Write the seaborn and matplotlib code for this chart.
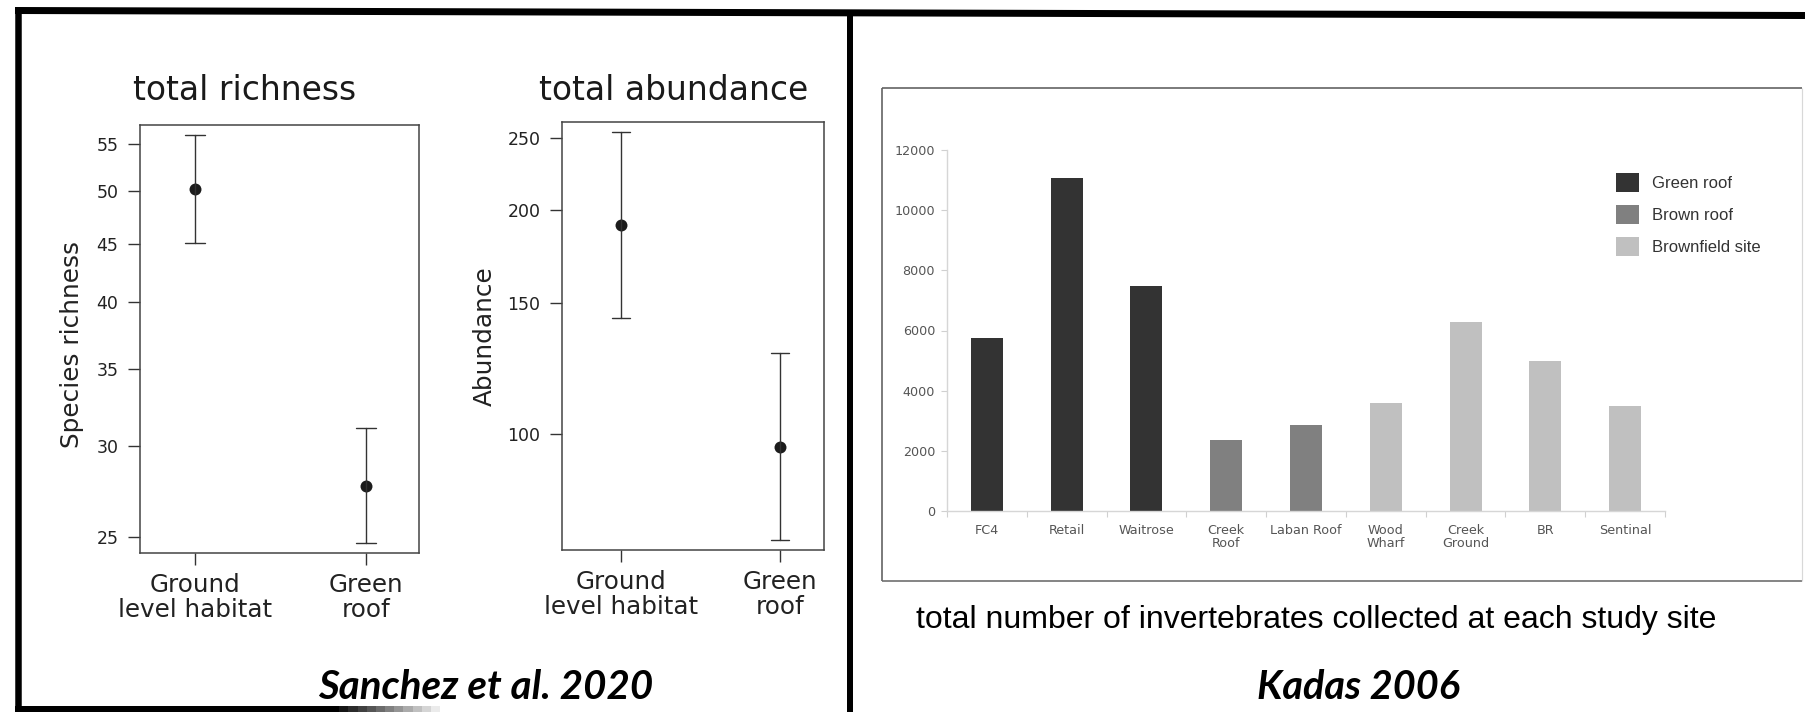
import numpy as np
import pandas as pd
import matplotlib
matplotlib.use("Agg")
import matplotlib.pyplot as plt
from matplotlib.lines import Line2D
from matplotlib.ticker import FixedLocator, FixedFormatter, NullLocator
import seaborn as sns

# ---- Sanchez et al. 2020: group means with interval bounds ----
habitats = ["Ground\nlevel habitat", "Green\nroof"]
richness_mean = [50.2, 27.7]
richness_low = [45.1, 24.7]
richness_high = [56.0, 31.1]
abundance_mean = [190.8, 96.0]
abundance_low = [143.0, 71.9]
abundance_high = [254.7, 128.6]
richness_ticks = [25, 30, 35, 40, 45, 50, 55]
abundance_ticks = [100, 150, 200, 250]

# ---- Kadas 2006: invertebrate totals per site ----
sites = ["FC4", "Retail", "Waitrose", "Creek\nRoof", "Laban Roof",
         "Wood\nWharf", "Creek\nGround", "BR", "Sentinal"]
site_types = ["Green roof", "Green roof", "Green roof", "Brown roof", "Brown roof",
              "Brownfield site", "Brownfield site", "Brownfield site", "Brownfield site"]
invertebrates = [5760, 11080, 7480, 2360, 2850, 3590, 6290, 4990, 3480]
count_ticks = [0, 2000, 4000, 6000, 8000, 10000, 12000]
type_colors = {"Green roof": "#333333", "Brown roof": "#808080", "Brownfield site": "#c0c0c0"}

W, H = 1805, 712
DPI = 100
PT = 72 / DPI  # points per pixel

sns.set_style("white")
plt.rcParams["font.family"] = ["DejaVu Sans"]

fig = plt.figure(figsize=(W / DPI, H / DPI), dpi=DPI)
fig.patch.set_facecolor("white")


def box(x0, y0, x1, y1):
    return [x0 / W, 1 - y1 / H, (x1 - x0) / W, (y1 - y0) / H]


def fig_line(x0, y0, x1, y1, width_px, color):
    fig.add_artist(Line2D([x0 / W, x1 / W], [1 - y0 / H, 1 - y1 / H],
                          transform=fig.transFigure, color=color,
                          linewidth=width_px * PT, solid_capstyle="butt"))


ink = "#1c1c1c"


def interval_panel(ax, means, lows, highs, ticks, ylim, xlim, title, title_xy,
                   ylabel, label_xy):
    values = np.ravel(np.column_stack([lows, means, highs]))
    df = pd.DataFrame({"habitat": np.repeat(habitats, 3), "value": values})
    ax.set_yscale("log")
    sns.pointplot(data=df, x="habitat", y="value", order=habitats,
                  estimator="median", errorbar=lambda v: (v.min(), v.max()),
                  color=ink, linestyle="none", markersize=8.6, markeredgewidth=0,
                  capsize=0.115, err_kws={"linewidth": 1.0, "color": "#333333"},
                  ax=ax)
    ax.set_xlim(*xlim)
    ax.set_ylim(*ylim)
    ax.yaxis.set_major_locator(FixedLocator(ticks))
    ax.yaxis.set_major_formatter(FixedFormatter([str(t) for t in ticks]))
    ax.yaxis.set_minor_locator(NullLocator())
    ax.set_xlabel("")
    ax.set_ylabel("")
    for s in ax.spines.values():
        s.set_visible(True)
        s.set_color("#444444")
        s.set_linewidth(1.1)
    ax.tick_params(axis="both", which="major", direction="out", length=8.6,
                   width=1.0, color="#333333", labelcolor="#222222",
                   left=True, bottom=True)
    ax.tick_params(axis="y", labelsize=12.5, pad=7.0)
    ax.tick_params(axis="x", labelsize=17.7, pad=5.5)
    for lab in ax.get_xticklabels():
        lab.set_linespacing(1.05)
    ax.text(title_xy[0], title_xy[1], title, transform=ax.transAxes,
            ha="center", va="baseline", fontsize=23.7, color="#1a1a1a")
    ax.text(label_xy[0], label_xy[1], ylabel, transform=ax.transAxes,
            ha="center", va="center", rotation=90, fontsize=17.8, color="#222222")
    ax.set_facecolor("white")


ax1 = fig.add_axes(box(140, 125, 419, 553))
interval_panel(ax1, richness_mean, richness_low, richness_high, richness_ticks,
               (24.2, 57.1), (-0.32, 1.31), "total richness", (0.3746, 1.0584),
               "Species richness", (-0.242, 0.487))

ax2 = fig.add_axes(box(562, 122, 824, 550))
interval_panel(ax2, abundance_mean, abundance_low, abundance_high, abundance_ticks,
               (69.8, 262.7), (-0.368, 1.274), "total abundance", (0.4256, 1.0514),
               "Abundance", (-0.294, 0.5))

# ---- bar chart of site totals ----
ax3 = fig.add_axes(box(947, 150, 1665, 511))
bars = pd.DataFrame({"site": sites, "count": invertebrates, "type": site_types})
sns.barplot(data=bars, x="site", y="count", hue="type", order=sites,
            hue_order=list(type_colors), palette=type_colors, dodge=False,
            width=0.4, saturation=1, linewidth=0, ax=ax3)
ax3.set_xlim(-0.5, len(sites) - 0.5)
ax3.set_ylim(count_ticks[0], count_ticks[-1])
ax3.yaxis.set_major_locator(FixedLocator(count_ticks))
ax3.yaxis.set_major_formatter(FixedFormatter([str(t) for t in count_ticks]))
ax3.xaxis.set_minor_locator(FixedLocator(np.arange(-0.5, len(sites), 1.0)))
ax3.set_xlabel("")
ax3.set_ylabel("")
ax3.set_facecolor("none")
for side in ("top", "right"):
    ax3.spines[side].set_visible(False)
for side in ("left", "bottom"):
    ax3.spines[side].set_visible(True)
    ax3.spines[side].set_color("#d6d6d6")
    ax3.spines[side].set_linewidth(1.0)
ax3.tick_params(axis="y", which="major", direction="out", length=4, width=0.8,
                color="#d0d0d0", labelsize=9.2, labelcolor="#555555", pad=4.6,
                left=True)
ax3.tick_params(axis="x", which="major", length=0, labelsize=9.2,
                labelcolor="#555555", pad=9, bottom=True)
ax3.tick_params(axis="x", which="minor", direction="out", length=4, width=0.8,
                color="#d0d0d0", bottom=True)
for lab in ax3.get_xticklabels():
    lab.set_linespacing(1.05)

handles, labels = ax3.get_legend_handles_labels()
ax3.legend(handles, labels, loc="upper left",
           bbox_to_anchor=(1616 / W, 1 - 172.5 / H), bbox_transform=fig.transFigure,
           frameon=False, borderpad=0, borderaxespad=0,
           handlelength=1.38, handleheight=1.38, handletextpad=0.76,
           labelspacing=0.78, labelcolor="#333333",
           prop={"family": "Liberation Sans", "size": 12})

# ---- picture frame around the bar chart ----
fig_line(882, 88, 1802, 88, 1.6, "#5e5e5e")
fig_line(882, 88, 882, 581, 1.6, "#5e5e5e")
fig_line(882, 581, 1802, 581, 1.6, "#6a6a6a")
fig_line(1802, 88, 1802, 581, 1.2, "#d8d8d8")

# ---- captions ----
fig.text(1316.5 / W, 1 - 628 / H,
         "total number of invertebrates collected at each study site",
         ha="center", va="baseline", fontsize=23, color="black",
         family="Liberation Sans")
fig.text(486 / W, 1 - 699 / H, "Sanchez et al. 2020", ha="center", va="baseline",
         fontsize=29, fontweight="bold", fontstyle="italic", family="Lato",
         color="black")
fig.text(1358 / W, 1 - 699 / H, "Kadas 2006", ha="center", va="baseline",
         fontsize=28.5, fontweight="bold", fontstyle="italic", family="Lato",
         color="black")

# ---- panel borders ----
fig_line(15, 10.5, 1805, 15.5, 7, "black")
fig_line(18, 10, 18, 712, 6.5, "black")
fig_line(850, 13, 850, 712, 6, "black")
fig_line(15, 708.5, 330, 708.5, 6, "black")
# the lower edge of the left panel fades out towards the right
fade = np.linspace(0.0, 0.92, 12)
edges = np.linspace(330, 440, 13)
for g, xa, xb in zip(fade, edges[:-1], edges[1:]):
    fig_line(xa, 708.5, xb, 708.5, 6, str(g))

fig.savefig("out.png", dpi=DPI, facecolor="white")
